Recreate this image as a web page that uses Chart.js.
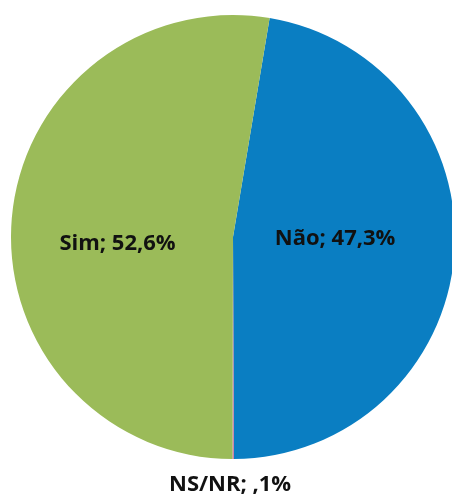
<!DOCTYPE html>
<html>
<head>
<meta charset="utf-8">
<script src="https://cdn.jsdelivr.net/npm/chart.js@4"></script>
<style>
html,body{margin:0;padding:0;overflow:hidden;background:#fff;}
#wrap{position:relative;width:455px;height:500px;}
</style>
</head>
<body>
<div id="wrap"><canvas id="c" width="455" height="500"></canvas></div>
<script>
const categories = ["Não", "NS/NR", "Sim"];
const labelsText = ["Não; 47,3%", "NS/NR; ,1%", "Sim; 52,6%"];
const values = [47.3, 0.1, 52.6];
const colors = ["#0A7EC2", "#C8709F", "#9BBB59"];
// label placement relative to pie centre, in units of radius
const labelOffsets = [[0.46, 0.01], [-0.013, 1.117], [-0.52, 0.03]];

const labelPlugin = {
  id: 'sliceLabels',
  afterDatasetsDraw(chart) {
    const ctx = chart.ctx;
    const meta = chart.getDatasetMeta(0);
    ctx.save();
    ctx.font = 'bold 22px "Open Sans", sans-serif';
    ctx.fillStyle = '#111111';
    ctx.textAlign = 'center';
    ctx.textBaseline = 'middle';
    meta.data.forEach((arc, i) => {
      const p = arc.getProps(['x', 'y', 'outerRadius'], true);
      const x = p.x + labelOffsets[i][0] * p.outerRadius;
      const y = p.y + labelOffsets[i][1] * p.outerRadius;
      ctx.fillText(labelsText[i], x, y);
    });
    ctx.restore();
  }
};

new Chart(document.getElementById('c'), {
  type: 'pie',
  data: {
    labels: categories,
    datasets: [{
      data: values,
      backgroundColor: colors,
      borderWidth: 0
    }]
  },
  options: {
    responsive: false,
    animation: false,
    rotation: 9.5,
    layout: { padding: { left: 11, right: 0, top: 15, bottom: 41 } },
    plugins: { legend: { display: false }, tooltip: { enabled: false } }
  },
  plugins: [labelPlugin]
});
</script>
</body>
</html>
